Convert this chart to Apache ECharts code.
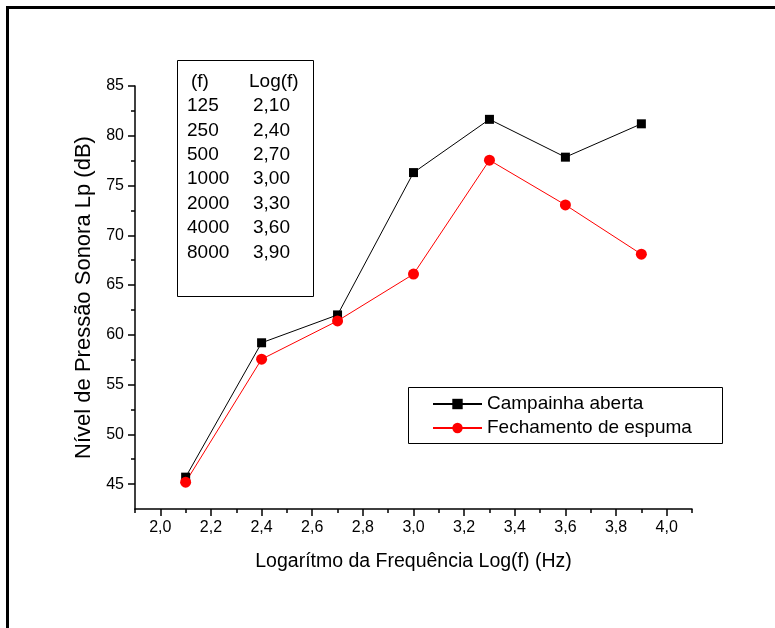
<!DOCTYPE html>
<html>
<head>
<meta charset="utf-8">
<script src="https://cdn.jsdelivr.net/npm/echarts@6/dist/echarts.min.js"></script>
<style>html,body{margin:0;padding:0;background:#fff;}#c{width:775px;height:628px;}</style>
</head>
<body>
<div id="c"></div>
<script>
// ---- data ----
const logF = [2.1, 2.4, 2.7, 3.0, 3.3, 3.6, 3.9];
const campainhaAberta = [45.7, 59.2, 62.0, 76.3, 81.65, 77.85, 81.2];
const fechamentoEspuma = [45.2, 57.55, 61.4, 66.1, 77.55, 73.05, 68.1];
const seriesNames = ['Campainha aberta', 'Fechamento de espuma'];
const xMajorTicks = [2.0, 2.2, 2.4, 2.6, 2.8, 3.0, 3.2, 3.4, 3.6, 3.8, 4.0];
const xTickLabels = ['2,0', '2,2', '2,4', '2,6', '2,8', '3,0', '3,2', '3,4', '3,6', '3,8', '4,0'];
const xMinorTicks = [1.9, 2.1, 2.3, 2.5, 2.7, 2.9, 3.1, 3.3, 3.5, 3.7, 3.9, 4.1];
const yMajorTicks = [45, 50, 55, 60, 65, 70, 75, 80, 85];
const yMinorTicks = [47.5, 52.5, 57.5, 62.5, 67.5, 72.5, 77.5, 82.5];
const tableHeader = ['(f)', 'Log(f)'];
const tableFreq = ['125', '250', '500', '1000', '2000', '4000', '8000'];
const tableLog = ['2,10', '2,40', '2,70', '3,00', '3,30', '3,60', '3,90'];
const xTitle = 'Logarítmo da Frequência Log(f) (Hz)';
const yTitle = 'Nível de Pressão Sonora Lp (dB)';

const FONT = 'Arial, "Liberation Sans", sans-serif';
const chart = echarts.init(document.getElementById('c'), null, {renderer: 'canvas'});

const tableTexts = [];
tableTexts.push({type: 'text', style: {text: tableHeader[0], x: 191, y: 82, fill: '#000', font: '19px ' + FONT, verticalAlign: 'middle'}});
tableTexts.push({type: 'text', style: {text: tableHeader[1], x: 249, y: 82, fill: '#000', font: '19px ' + FONT, verticalAlign: 'middle'}});
tableFreq.forEach((f, i) => {
  const y = 106 + i * 24.4;
  tableTexts.push({type: 'text', style: {text: f, x: 187, y: y, fill: '#000', font: '19px ' + FONT, verticalAlign: 'middle'}});
  tableTexts.push({type: 'text', style: {text: tableLog[i], x: 253, y: y, fill: '#000', font: '19px ' + FONT, verticalAlign: 'middle'}});
});

const xLabelFmt = v => {
  const i = xMajorTicks.findIndex(t => Math.abs(t - v) < 1e-6);
  return i >= 0 ? xTickLabels[i] : '';
};

chart.setOption({
  animation: false,
  backgroundColor: '#fff',
  grid: {left: 135, right: 83, top: 86, bottom: 119, containLabel: false},
  xAxis: [{
    type: 'value', min: 1.9, max: 4.1, position: 'bottom',
    name: xTitle, nameLocation: 'middle', nameGap: 43,
    nameTextStyle: {color: '#000', fontSize: 19.5, fontFamily: FONT},
    axisLine: {show: true, lineStyle: {color: '#000', width: 1.5}},
    axisTick: {show: true, customValues: xMajorTicks, length: 7, inside: false, lineStyle: {color: '#000', width: 1.5}},
    axisLabel: {show: true, customValues: xMajorTicks, formatter: xLabelFmt, color: '#000', fontSize: 16, fontFamily: FONT, margin: 11},
    splitLine: {show: false}
  }, {
    type: 'value', min: 1.9, max: 4.1, position: 'bottom', gridIndex: 0,
    axisLine: {show: false},
    axisTick: {show: true, customValues: xMinorTicks, length: 4, lineStyle: {color: '#000', width: 1.5}},
    axisLabel: {show: false},
    splitLine: {show: false}
  }],
  yAxis: [{
    type: 'value', min: 42.5, max: 85, position: 'left',
    name: yTitle, nameLocation: 'middle', nameGap: 38,
    nameTextStyle: {color: '#000', fontSize: 22, fontFamily: FONT},
    axisLine: {show: true, lineStyle: {color: '#000', width: 1.5}},
    axisTick: {show: true, customValues: yMajorTicks, length: 7, lineStyle: {color: '#000', width: 1.5}},
    axisLabel: {show: true, customValues: yMajorTicks, color: '#000', fontSize: 16, fontFamily: FONT, margin: 11},
    splitLine: {show: false}
  }, {
    type: 'value', min: 42.5, max: 85, position: 'left', gridIndex: 0,
    axisLine: {show: false},
    axisTick: {show: true, customValues: yMinorTicks, length: 4, lineStyle: {color: '#000', width: 1.5}},
    axisLabel: {show: false},
    splitLine: {show: false}
  }],
  legend: {
    show: true, orient: 'vertical', left: 432, top: 394, padding: 0,
    itemWidth: 49, itemHeight: 13, itemGap: 4,
    textStyle: {color: '#000', fontSize: 19, fontFamily: FONT, lineHeight: 20},
    data: seriesNames
  },
  series: [{
    name: seriesNames[0], type: 'line', xAxisIndex: 0, yAxisIndex: 0,
    data: logF.map((x, i) => [x, campainhaAberta[i]]),
    symbol: 'rect', symbolSize: 9,
    itemStyle: {color: '#000'}, lineStyle: {color: '#000', width: 1}
  }, {
    name: seriesNames[1], type: 'line', xAxisIndex: 0, yAxisIndex: 0,
    data: logF.map((x, i) => [x, fechamentoEspuma[i]]),
    symbol: 'circle', symbolSize: 11,
    itemStyle: {color: '#ff0000'}, lineStyle: {color: '#ff0000', width: 1}
  }],
  graphic: [
    {type: 'line', shape: {x1: 6, y1: 7.5, x2: 775, y2: 7.5}, style: {stroke: '#000', lineWidth: 3}},
    {type: 'line', shape: {x1: 7.5, y1: 6, x2: 7.5, y2: 628}, style: {stroke: '#000', lineWidth: 3}},
    {type: 'rect', shape: {x: 177.5, y: 60.5, width: 136, height: 236}, style: {fill: 'none', stroke: '#000', lineWidth: 1}},
    {type: 'rect', shape: {x: 408.5, y: 387.5, width: 314, height: 56}, style: {fill: 'none', stroke: '#000', lineWidth: 1}},
    {type: 'group', children: tableTexts}
  ]
});
</script>
</body>
</html>
